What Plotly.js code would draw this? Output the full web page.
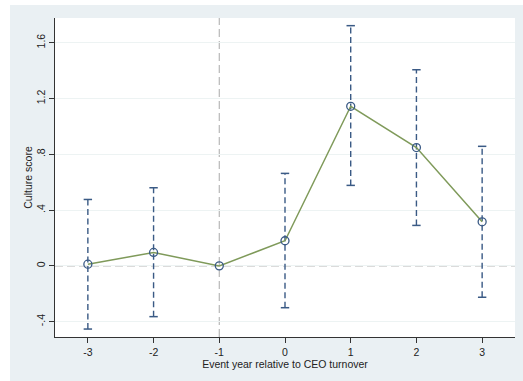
<!DOCTYPE html>
<html><head><meta charset="utf-8">
<script src="https://cdn.plot.ly/plotly-3.0.1.min.js"></script>
<style>
html,body{margin:0;padding:0;background:#ffffff;}
#chart{position:absolute;left:10px;top:5px;width:513px;height:376px;}
</style></head>
<body><div id="chart"></div>
<script>
const years = [-3, -2, -1, 0, 1, 2, 3];
const yearLabels = ['-3', '-2', '-1', '0', '1', '2', '3'];
const estimates = [0.012, 0.096, 0.0, 0.18, 1.144, 0.848, 0.316];
const ciLow = [-0.453, -0.364, null, -0.30, 0.577, 0.29, -0.225];
const ciHigh = [0.476, 0.56, null, 0.663, 1.722, 1.406, 0.857];
const yTickVals = [-0.4, 0, 0.4, 0.8, 1.2, 1.6];
const yTickText = ['-.4', '0', '.4', '.8', '1.2', '1.6'];

const navy = '#3a5a85';
const olive = '#7f9a5a';

const barX = [], barY = [], capX = [], capY = [];
years.forEach((x, i) => {
  if (ciLow[i] === null) return;
  barX.push(x, x, null); barY.push(ciLow[i], ciHigh[i], null);
  capX.push(x, x); capY.push(ciLow[i], ciHigh[i]);
});

const traces = [
  {x: barX, y: barY, mode: 'lines', type: 'scatter', line: {color: navy, width: 1.4, dash: '6px,3.5px'}, hoverinfo: 'skip'},
  {x: capX, y: capY, mode: 'markers', type: 'scatter', marker: {symbol: 'line-ew', size: 6, line: {color: navy, width: 1.5}}, hoverinfo: 'skip'},
  {x: years, y: estimates, mode: 'lines+markers', type: 'scatter', line: {color: olive, width: 1.5},
   marker: {symbol: 'circle-open', size: 8, color: navy, line: {color: navy, width: 1.3}}}
];

const layout = {
  width: 513, height: 376,
  margin: {l: 45, r: 8, t: 13, b: 44},
  paper_bgcolor: '#eaf0f3',
  plot_bgcolor: '#ffffff',
  showlegend: false,
  font: {family: 'Liberation Sans, Arial, sans-serif', size: 10, color: '#222'},
  xaxis: {
    range: [-3.5, 3.5], tickvals: years, ticktext: yearLabels, ticks: 'outside', ticklen: 5, tickcolor: '#333',
    showgrid: false, zeroline: false, showline: true, linecolor: '#333', linewidth: 1,
    title: {text: 'Event year relative to CEO turnover', font: {size: 10.5}, standoff: 2},
    tickfont: {size: 10.5}
  },
  yaxis: {
    range: [-0.51, 1.777], tickvals: yTickVals, ticktext: yTickText, tickangle: -90,
    ticks: 'outside', ticklen: 5, tickcolor: '#333',
    showgrid: true, gridcolor: '#edf3f3', gridwidth: 1, zeroline: false,
    showline: true, linecolor: '#333', linewidth: 1,
    title: {text: 'Culture score', font: {size: 10.5}, standoff: 0},
    tickfont: {size: 10.5}
  },
  shapes: [
    {type: 'line', xref: 'paper', x0: 0, x1: 1, yref: 'y', y0: 0, y1: 0, line: {color: '#b8b8b8', width: 1.2, dash: '8px,4px'}, layer: 'below'},
    {type: 'line', xref: 'x', x0: -1, x1: -1, yref: 'paper', y0: 0, y1: 1, line: {color: '#b8b8b8', width: 1.2, dash: '8px,4px'}, layer: 'below'}
  ]
};

Plotly.newPlot('chart', traces, layout, {displayModeBar: false, staticPlot: true});
</script></body></html>
